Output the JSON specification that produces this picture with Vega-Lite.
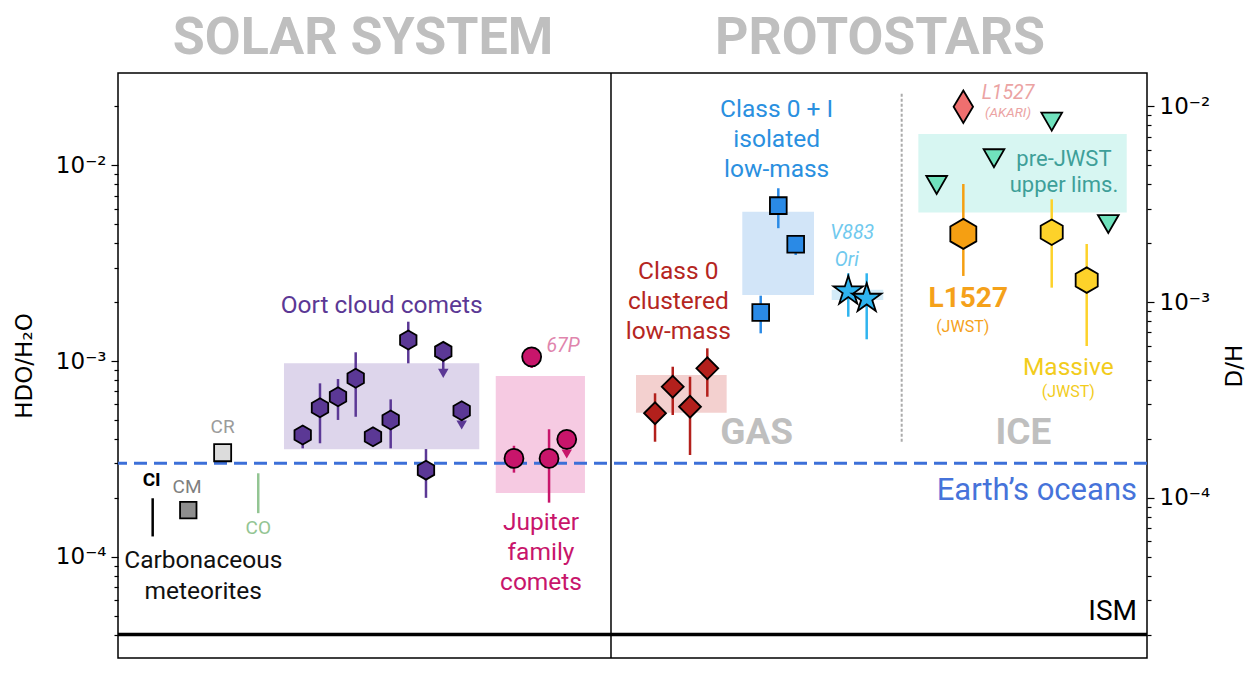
{
  "$schema": "https://vega.github.io/schema/vega-lite/v6.json",
  "width": 1029,
  "height": 585,
  "autosize": {"type": "none"},
  "padding": {"left": 118, "top": 73, "right": 103, "bottom": 19},
  "background": "white",
  "config": {"view": {"stroke": "#000", "strokeWidth": 1.5}, "font": "Roboto"},
  "datasets": {
    "boxes": [
      {"grp": "Oortbox", "x": 16.13, "x2": 35.11, "lo": 3.54e-4, "hi": 9.73e-4},
      {"grp": "JFCbox", "x": 36.71, "x2": 45.38, "lo": 2.12e-4, "hi": 8.38e-4},
      {"grp": "C0box", "x": 50.34, "x2": 59.15, "lo": 5.44e-4, "hi": 8.48e-4},
      {"grp": "C0Ibox", "x": 60.67, "x2": 67.64, "lo": 2.175e-3, "hi": 5.79e-3},
      {"grp": "V883box", "x": 69.36, "x2": 74.37, "lo": 2.05e-3, "hi": 2.31e-3},
      {"grp": "preJWSTbox", "x": 77.78, "x2": 98.03, "lo": 5.73e-3, "hi": 1.445e-2}
    ],
    "vlines": [
      {"kind": "divider", "x": 47.91},
      {"kind": "ice", "x": 76.16, "lo": 3.87e-4, "hi": 0.02377}
    ],
    "refs": [{"name": "Earth's oceans", "v": 3.0e-4}],
    "ism": [{"name": "ISM", "dh": 2.005e-5}],
    "errs": [
      {"grp": "CI", "x": 3.37, "lo": 1.27e-4, "hi": 1.99e-4},
      {"grp": "CO", "x": 13.63, "lo": 1.67e-4, "hi": 2.67e-4},
      {"grp": "Oort", "x": 17.95, "lo": 3.58e-4, "hi": 4.67e-4},
      {"grp": "Oort", "x": 19.63, "lo": 3.80e-4, "hi": 7.69e-4},
      {"grp": "Oort", "x": 21.38, "lo": 5.00e-4, "hi": 8.09e-4},
      {"grp": "Oort", "x": 23.10, "lo": 5.19e-4, "hi": 1.108e-3},
      {"grp": "Oort", "x": 26.50, "lo": 3.58e-4, "hi": 6.37e-4},
      {"grp": "Oort", "x": 28.21, "lo": 9.73e-4, "hi": 1.588e-3},
      {"grp": "Oort", "x": 29.93, "lo": 2.00e-4, "hi": 3.55e-4},
      {"grp": "Oort", "x": 31.61, "lo": 8.65e-4, "hi": 1.116e-3},
      {"grp": "Oort", "x": 33.40, "lo": 4.71e-4, "hi": 5.57e-4},
      {"grp": "JFC", "x": 38.48, "lo": 2.69e-4, "hi": 3.69e-4},
      {"grp": "JFC", "x": 40.20, "lo": 9.21e-4, "hi": 1.165e-3},
      {"grp": "JFC", "x": 41.89, "lo": 1.89e-4, "hi": 4.48e-4},
      {"grp": "JFC", "x": 43.61, "lo": 3.35e-4, "hi": 3.98e-4},
      {"grp": "C0", "x": 52.19, "lo": 3.87e-4, "hi": 6.84e-4},
      {"grp": "C0", "x": 53.91, "lo": 5.30e-4, "hi": 9.35e-4},
      {"grp": "C0", "x": 55.59, "lo": 3.31e-4, "hi": 8.31e-4},
      {"grp": "C0", "x": 57.27, "lo": 6.57e-4, "hi": 1.161e-3},
      {"grp": "C0I", "x": 64.17, "lo": 4.77e-3, "hi": 7.63e-3},
      {"grp": "C0I", "x": 65.86, "lo": 3.48e-3, "hi": 4.40e-3},
      {"grp": "C0I", "x": 62.46, "lo": 1.385e-3, "hi": 2.157e-3},
      {"grp": "V883", "x": 70.97, "lo": 1.684e-3, "hi": 2.806e-3},
      {"grp": "V883", "x": 72.76, "lo": 1.291e-3, "hi": 2.806e-3},
      {"grp": "L1527", "x": 82.15, "lo": 2.72e-3, "hi": 8.02e-3},
      {"grp": "Massive", "x": 90.74, "lo": 2.37e-3, "hi": 6.70e-3},
      {"grp": "Massive", "x": 94.14, "lo": 1.193e-3, "hi": 3.96e-3}
    ],
    "points": [
      {"grp": "CM", "x": 6.83, "v": 1.73e-4},
      {"grp": "CR", "x": 10.17, "v": 3.40e-4},
      {"grp": "Oort", "x": 17.95, "v": 4.19e-4},
      {"grp": "Oort", "x": 19.63, "v": 5.77e-4},
      {"grp": "Oort", "x": 21.38, "v": 6.57e-4},
      {"grp": "Oort", "x": 23.10, "v": 8.16e-4},
      {"grp": "Oort", "x": 24.78, "v": 4.10e-4},
      {"grp": "Oort", "x": 26.50, "v": 5.00e-4},
      {"grp": "Oort", "x": 28.21, "v": 1.28e-3},
      {"grp": "Oort", "x": 29.93, "v": 2.77e-4},
      {"grp": "Oort", "x": 31.61, "v": 1.12e-3},
      {"grp": "Oort", "x": 33.40, "v": 5.57e-4},
      {"grp": "JFC", "x": 38.48, "v": 3.18e-4},
      {"grp": "JFC", "x": 40.20, "v": 1.05e-3},
      {"grp": "JFC", "x": 41.89, "v": 3.18e-4},
      {"grp": "JFC", "x": 43.61, "v": 3.98e-4},
      {"grp": "C0", "x": 52.19, "v": 5.41e-4},
      {"grp": "C0", "x": 53.91, "v": 7.39e-4},
      {"grp": "C0", "x": 55.59, "v": 5.84e-4},
      {"grp": "C0", "x": 57.27, "v": 9.18e-4},
      {"grp": "C0I", "x": 64.17, "v": 6.22e-3},
      {"grp": "C0I", "x": 65.86, "v": 3.95e-3},
      {"grp": "C0I", "x": 62.46, "v": 1.77e-3},
      {"grp": "V883", "x": 70.97, "v": 2.31e-3},
      {"grp": "V883", "x": 72.76, "v": 2.12e-3},
      {"grp": "AKARI", "x": 82.15, "v": 1.99e-2},
      {"grp": "preJWST", "x": 79.56, "v": 7.93e-3},
      {"grp": "preJWST", "x": 85.13, "v": 1.086e-2},
      {"grp": "preJWST", "x": 90.74, "v": 1.67e-2},
      {"grp": "preJWST", "x": 96.24, "v": 5.01e-3},
      {"grp": "L1527", "x": 82.15, "v": 4.46e-3},
      {"grp": "Massive", "x": 90.74, "v": 4.55e-3},
      {"grp": "Massive", "x": 94.14, "v": 2.59e-3}
    ],
    "limits": [
      {"grp": "Oort", "x": 31.61, "v": 8.65e-4},
      {"grp": "Oort", "x": 33.40, "v": 4.71e-4},
      {"grp": "JFC", "x": 43.61, "v": 3.35e-4}
    ],
    "labels": [
      {"role": "section", "grp": "gray", "x": 23.81, "v": 0.0447, "text": "SOLAR SYSTEM"},
      {"role": "section", "grp": "gray", "x": 74.05, "v": 0.0447, "text": "PROTOSTARS"},
      {"role": "phase", "grp": "gray", "x": 62.06, "v": 4.27e-4, "text": "GAS"},
      {"role": "phase", "grp": "gray", "x": 87.98, "v": 4.27e-4, "text": "ICE"},
      {"role": "group", "grp": "carb", "x": 8.29, "v": 9.54e-5, "text": "Carbonaceous"},
      {"role": "group", "grp": "carb", "x": 8.29, "v": 6.63e-5, "text": "meteorites"},
      {"role": "group", "grp": "oortl", "x": 25.62, "v": 1.91e-3, "text": "Oort cloud comets"},
      {"role": "group", "grp": "jfcl", "x": 41.11, "v": 1.487e-4, "text": "Jupiter"},
      {"role": "group", "grp": "jfcl", "x": 41.11, "v": 1.044e-4, "text": "family"},
      {"role": "group", "grp": "jfcl", "x": 41.11, "v": 7.34e-5, "text": "comets"},
      {"role": "group", "grp": "c0l", "x": 54.45, "v": 2.859e-3, "text": "Class 0"},
      {"role": "group", "grp": "c0l", "x": 54.45, "v": 2.009e-3, "text": "clustered"},
      {"role": "group", "grp": "c0l", "x": 54.45, "v": 1.411e-3, "text": "low-mass"},
      {"role": "group", "grp": "c0il", "x": 64.01, "v": 0.01917, "text": "Class 0 + I"},
      {"role": "group", "grp": "c0il", "x": 64.01, "v": 0.01346, "text": "isolated"},
      {"role": "group", "grp": "c0il", "x": 64.01, "v": 9.46e-3, "text": "low-mass"},
      {"role": "group2", "grp": "prel", "x": 91.93, "v": 0.01077, "text": "pre-JWST"},
      {"role": "group2", "grp": "prel", "x": 91.93, "v": 7.93e-3, "text": "upper lims."},
      {"role": "group", "grp": "massl", "x": 92.35, "v": 9.18e-4, "text": "Massive"},
      {"role": "tag", "grp": "crl", "x": 10.17, "v": 4.62e-4, "text": "CR"},
      {"role": "tag", "grp": "cml", "x": 6.71, "v": 2.28e-4, "text": "CM"},
      {"role": "tag", "grp": "col", "x": 13.63, "v": 1.40e-4, "text": "CO"},
      {"role": "tagbold", "grp": "cil", "x": 3.27, "v": 2.47e-4, "text": "CI"},
      {"role": "ital", "grp": "p67", "x": 43.25, "v": 1.193e-3, "text": "67P"},
      {"role": "ital", "grp": "v883l", "x": 71.36, "v": 4.49e-3, "text": "V883"},
      {"role": "ital", "grp": "v883l", "x": 70.82, "v": 3.28e-3, "text": "Ori"},
      {"role": "ital", "grp": "akaril", "x": 86.49, "v": 0.02333, "text": "L1527"},
      {"role": "italsmall", "grp": "akaril", "x": 86.49, "v": 0.01844, "text": "(AKARI)"},
      {"role": "big", "grp": "l1527l", "x": 82.63, "v": 2.067e-3, "text": "L1527"},
      {"role": "small", "grp": "l1527l", "x": 82.09, "v": 1.497e-3, "text": "(JWST)"},
      {"role": "small", "grp": "massl", "x": 92.35, "v": 6.97e-4, "text": "(JWST)"},
      {"role": "ref", "grp": "earth", "x": 99.03, "v": 2.166e-4, "text": "Earth’s oceans"},
      {"role": "refism", "grp": "ism", "x": 99.03, "v": 5.22e-5, "text": "ISM"}
    ]
  },
  "resolve": {"scale": {"y": "independent"}, "axis": {"y": "independent"}},
  "layer": [
    {
      "data": {"name": "boxes"},
      "mark": {"type": "rect", "opacity": 1},
      "encoding": {
        "x": {"field": "x", "type": "quantitative", "scale": {"domain": [0, 100], "nice": false, "zero": false}, "axis": null},
        "x2": {"field": "x2"},
        "y": {"field": "lo", "type": "quantitative", "scale": {"type": "log", "domain": [3.04e-5, 0.0296], "nice": false},
          "axis": {"orient": "left", "title": "HDO/H₂O",
            "values": [4e-5, 5e-5, 6e-5, 7e-5, 8e-5, 9e-5, 1e-4, 2e-4, 3e-4, 4e-4, 5e-4, 6e-4, 7e-4, 8e-4, 9e-4, 1e-3, 2e-3, 3e-3, 4e-3, 5e-3, 6e-3, 7e-3, 8e-3, 9e-3, 1e-2, 2e-2],
            "labelExpr": "datum.value == 0.01 ? '10⁻²' : datum.value == 0.001 ? '10⁻³' : datum.value == 0.0001 ? '10⁻⁴' : ''",
            "tickSize": {"condition": {"test": "datum.value == 0.01 || datum.value == 0.001 || datum.value == 0.0001", "value": 7}, "value": 4},
            "tickColor": "#000", "tickWidth": 1.2, "domain": false, "grid": false,
            "labelFont": "DejaVu Sans", "labelFontSize": 23, "labelColor": "#000", "labelPadding": 5,
            "labelOverlap": false, "labelBound": false, "labelFlush": false,
            "titleFont": "DejaVu Sans", "titleFontSize": 23, "titleFontWeight": "normal", "titleColor": "#000", "titlePadding": 19}},
        "y2": {"field": "hi"},
        "color": {"field": "grp", "type": "nominal", "legend": null,
          "scale": {"domain": ["CI","CM","CR","CO","Oort","JFC","C0","C0I","V883","AKARI","preJWST","L1527","Massive","Oortbox","JFCbox","C0box","C0Ibox","V883box","preJWSTbox","carb","oortl","jfcl","p67","c0l","c0il","v883l","akaril","prel","l1527l","massl","earth","ism","gray","crl","cml","col","cil"],
            "range": ["#000000","#8e8e8e","#dcdcdc","#93c593","#5b3895","#c8156b","#b3201c","#2a8ae6","#2fb4ef","#ef6f6f","#70e2bd","#f59f12","#fdd22a","#ddd5eb","#f6cae2","#f3d0cf","#d2e5f8","#d3ebf8","#d7f6f2","#111111","#5b3895","#c8156b","#e085ad","#b5261f","#2a90e0","#70c9ee","#eba3a3","#3e9f99","#f5a11a","#f2cc1c","#4673da","#000000","#bfbfbf","#9b9b9b","#7f7f7f","#93c593","#000000"]}}
      }
    },
    {
      "layer": [
        {
          "data": {"name": "vlines"},
          "transform": [{"filter": "datum.kind == 'divider'"}],
          "mark": {"type": "rule", "stroke": "#000", "strokeWidth": 1.5},
          "encoding": {
            "x": {"field": "x", "type": "quantitative", "scale": {"domain": [0, 100], "nice": false, "zero": false}, "axis": null}
          }
        },
        {
          "data": {"name": "vlines"},
          "transform": [{"filter": "datum.kind == 'ice'"}],
          "mark": {"type": "rule", "stroke": "#ababab", "strokeWidth": 2, "strokeDash": [3, 2]},
          "encoding": {
            "x": {"field": "x", "type": "quantitative", "scale": {"domain": [0, 100], "nice": false, "zero": false}, "axis": null},
            "y": {"field": "lo", "type": "quantitative", "scale": {"type": "log", "domain": [3.04e-5, 0.0296], "nice": false}, "axis": null},
            "y2": {"field": "hi"}
          }
        },
        {
          "data": {"name": "refs"},
          "mark": {"type": "rule", "stroke": "#3c6fd8", "strokeWidth": 3, "strokeDash": [13, 7]},
          "encoding": {
            "y": {"field": "v", "type": "quantitative", "scale": {"type": "log", "domain": [3.04e-5, 0.0296], "nice": false}, "axis": null}
          }
        },
        {
          "data": {"name": "errs"},
          "mark": {"type": "rule", "strokeWidth": 2.5},
          "encoding": {
            "x": {"field": "x", "type": "quantitative", "scale": {"domain": [0, 100], "nice": false, "zero": false}, "axis": null},
            "y": {"field": "lo", "type": "quantitative", "scale": {"type": "log", "domain": [3.04e-5, 0.0296], "nice": false}, "axis": null},
            "y2": {"field": "hi"},
            "color": {"field": "grp", "type": "nominal", "legend": null,
              "scale": {"domain": ["CI","CM","CR","CO","Oort","JFC","C0","C0I","V883","AKARI","preJWST","L1527","Massive","Oortbox","JFCbox","C0box","C0Ibox","V883box","preJWSTbox","carb","oortl","jfcl","p67","c0l","c0il","v883l","akaril","prel","l1527l","massl","earth","ism","gray","crl","cml","col","cil"],
                "range": ["#000000","#8e8e8e","#dcdcdc","#93c593","#5b3895","#c8156b","#b3201c","#2a8ae6","#2fb4ef","#ef6f6f","#70e2bd","#f59f12","#fdd22a","#ddd5eb","#f6cae2","#f3d0cf","#d2e5f8","#d3ebf8","#d7f6f2","#111111","#5b3895","#c8156b","#e085ad","#b5261f","#2a90e0","#70c9ee","#eba3a3","#3e9f99","#f5a11a","#f2cc1c","#4673da","#000000","#bfbfbf","#9b9b9b","#7f7f7f","#93c593","#000000"]}}
          }
        },
        {
          "data": {"name": "limits"},
          "mark": {"type": "point", "filled": true, "shape": "triangle-down", "size": 110, "strokeWidth": 0, "opacity": 1},
          "encoding": {
            "x": {"field": "x", "type": "quantitative", "scale": {"domain": [0, 100], "nice": false, "zero": false}, "axis": null},
            "y": {"field": "v", "type": "quantitative", "scale": {"type": "log", "domain": [3.04e-5, 0.0296], "nice": false}, "axis": null},
            "color": {"field": "grp", "type": "nominal", "legend": null,
              "scale": {"domain": ["CI","CM","CR","CO","Oort","JFC","C0","C0I","V883","AKARI","preJWST","L1527","Massive","Oortbox","JFCbox","C0box","C0Ibox","V883box","preJWSTbox","carb","oortl","jfcl","p67","c0l","c0il","v883l","akaril","prel","l1527l","massl","earth","ism","gray","crl","cml","col","cil"],
                "range": ["#000000","#8e8e8e","#dcdcdc","#93c593","#5b3895","#c8156b","#b3201c","#2a8ae6","#2fb4ef","#ef6f6f","#70e2bd","#f59f12","#fdd22a","#ddd5eb","#f6cae2","#f3d0cf","#d2e5f8","#d3ebf8","#d7f6f2","#111111","#5b3895","#c8156b","#e085ad","#b5261f","#2a90e0","#70c9ee","#eba3a3","#3e9f99","#f5a11a","#f2cc1c","#4673da","#000000","#bfbfbf","#9b9b9b","#7f7f7f","#93c593","#000000"]}}
          }
        },
        {
          "data": {"name": "points"},
          "mark": {"type": "point", "filled": true, "stroke": "#000", "strokeWidth": 1.8, "opacity": 1},
          "encoding": {
            "x": {"field": "x", "type": "quantitative", "scale": {"domain": [0, 100], "nice": false, "zero": false}, "axis": null},
            "y": {"field": "v", "type": "quantitative", "scale": {"type": "log", "domain": [3.04e-5, 0.0296], "nice": false}, "axis": null},
            "color": {"field": "grp", "type": "nominal", "legend": null,
              "scale": {"domain": ["CI","CM","CR","CO","Oort","JFC","C0","C0I","V883","AKARI","preJWST","L1527","Massive","Oortbox","JFCbox","C0box","C0Ibox","V883box","preJWSTbox","carb","oortl","jfcl","p67","c0l","c0il","v883l","akaril","prel","l1527l","massl","earth","ism","gray","crl","cml","col","cil"],
                "range": ["#000000","#8e8e8e","#dcdcdc","#93c593","#5b3895","#c8156b","#b3201c","#2a8ae6","#2fb4ef","#ef6f6f","#70e2bd","#f59f12","#fdd22a","#ddd5eb","#f6cae2","#f3d0cf","#d2e5f8","#d3ebf8","#d7f6f2","#111111","#5b3895","#c8156b","#e085ad","#b5261f","#2a90e0","#70c9ee","#eba3a3","#3e9f99","#f5a11a","#f2cc1c","#4673da","#000000","#bfbfbf","#9b9b9b","#7f7f7f","#93c593","#000000"]}},
            "shape": {"field": "grp", "type": "nominal", "legend": null,
              "scale": {"domain": ["CM","CR","Oort","JFC","C0","C0I","V883","AKARI","preJWST","L1527","Massive"],
                "range": ["square","square","M0,-1L0.866,-0.5L0.866,0.5L0,1L-0.866,0.5L-0.866,-0.5Z","circle","diamond","square","M0,-0.91L0.2245,-0.219L0.9511,-0.219L0.3633,0.208L0.5878,0.899L0,0.472L-0.5878,0.899L-0.3633,0.208L-0.9511,-0.219L-0.2245,-0.219Z","M0,-1L0.6,0L0,1L-0.6,0Z","triangle-down","M0,-1L0.866,-0.5L0.866,0.5L0,1L-0.866,0.5L-0.866,-0.5Z","M0,-1L0.866,-0.5L0.866,0.5L0,1L-0.866,0.5L-0.866,-0.5Z"]}},
            "size": {"field": "grp", "type": "nominal", "legend": null,
              "scale": {"type": "ordinal", "domain": ["CM","CR","Oort","JFC","C0","C0I","V883","AKARI","preJWST","L1527","Massive"],
                "range": [270, 290, 360, 360, 480, 280, 950, 1050, 430, 900, 650]}}
          }
        },
        {
          "data": {"name": "labels"},
          "encoding": {
            "x": {"field": "x", "type": "quantitative", "scale": {"domain": [0, 100], "nice": false, "zero": false}, "axis": null},
            "y": {"field": "v", "type": "quantitative", "scale": {"type": "log", "domain": [3.04e-5, 0.0296], "nice": false}, "axis": null},
            "text": {"field": "text", "type": "nominal"},
            "color": {"field": "grp", "type": "nominal", "legend": null,
              "scale": {"domain": ["CI","CM","CR","CO","Oort","JFC","C0","C0I","V883","AKARI","preJWST","L1527","Massive","Oortbox","JFCbox","C0box","C0Ibox","V883box","preJWSTbox","carb","oortl","jfcl","p67","c0l","c0il","v883l","akaril","prel","l1527l","massl","earth","ism","gray","crl","cml","col","cil"],
                "range": ["#000000","#8e8e8e","#dcdcdc","#93c593","#5b3895","#c8156b","#b3201c","#2a8ae6","#2fb4ef","#ef6f6f","#70e2bd","#f59f12","#fdd22a","#ddd5eb","#f6cae2","#f3d0cf","#d2e5f8","#d3ebf8","#d7f6f2","#111111","#5b3895","#c8156b","#e085ad","#b5261f","#2a90e0","#70c9ee","#eba3a3","#3e9f99","#f5a11a","#f2cc1c","#4673da","#000000","#bfbfbf","#9b9b9b","#7f7f7f","#93c593","#000000"]}}
          },
          "layer": [
            {"transform": [{"filter": "datum.role == 'section'"}], "mark": {"type": "text", "font": "Roboto", "fontSize": 52, "fontWeight": "bold", "baseline": "middle", "align": "center"}},
            {"transform": [{"filter": "datum.role == 'phase'"}], "mark": {"type": "text", "font": "Roboto", "fontSize": 37, "fontWeight": "bold", "baseline": "middle", "align": "center"}},
            {"transform": [{"filter": "datum.role == 'group'"}], "mark": {"type": "text", "font": "Roboto", "fontSize": 24.5, "baseline": "middle", "align": "center"}},
            {"transform": [{"filter": "datum.role == 'group2'"}], "mark": {"type": "text", "font": "Roboto", "fontSize": 22, "baseline": "middle", "align": "center"}},
            {"transform": [{"filter": "datum.role == 'tag'"}], "mark": {"type": "text", "font": "Roboto", "fontSize": 19, "baseline": "middle", "align": "center"}},
            {"transform": [{"filter": "datum.role == 'tagbold'"}], "mark": {"type": "text", "font": "Roboto", "fontSize": 19, "fontWeight": "bold", "baseline": "middle", "align": "center"}},
            {"transform": [{"filter": "datum.role == 'ital'"}], "mark": {"type": "text", "font": "Roboto", "fontSize": 19.5, "fontStyle": "italic", "baseline": "middle", "align": "center"}},
            {"transform": [{"filter": "datum.role == 'italsmall'"}], "mark": {"type": "text", "font": "Roboto", "fontSize": 13.5, "fontStyle": "italic", "baseline": "middle", "align": "center"}},
            {"transform": [{"filter": "datum.role == 'big'"}], "mark": {"type": "text", "font": "Roboto", "fontSize": 28, "fontWeight": "bold", "baseline": "middle", "align": "center"}},
            {"transform": [{"filter": "datum.role == 'small'"}], "mark": {"type": "text", "font": "Roboto", "fontSize": 16, "baseline": "middle", "align": "center"}},
            {"transform": [{"filter": "datum.role == 'ref'"}], "mark": {"type": "text", "font": "Roboto", "fontSize": 31, "baseline": "middle", "align": "right"}},
            {"transform": [{"filter": "datum.role == 'refism'"}], "mark": {"type": "text", "font": "Roboto", "fontSize": 28, "baseline": "middle", "align": "right"}}
          ]
        }
      ]
    },
    {
      "data": {"name": "ism"},
      "mark": {"type": "rule", "stroke": "#000", "strokeWidth": 3.5},
      "encoding": {
        "y": {"field": "dh", "type": "quantitative", "scale": {"type": "log", "domain": [1.52e-5, 0.0148], "nice": false},
          "axis": {"orient": "right", "title": "D/H",
            "values": [2e-5, 3e-5, 4e-5, 5e-5, 6e-5, 7e-5, 8e-5, 9e-5, 1e-4, 2e-4, 3e-4, 4e-4, 5e-4, 6e-4, 7e-4, 8e-4, 9e-4, 1e-3, 2e-3, 3e-3, 4e-3, 5e-3, 6e-3, 7e-3, 8e-3, 9e-3, 1e-2],
            "labelExpr": "datum.value == 0.01 ? '10⁻²' : datum.value == 0.001 ? '10⁻³' : datum.value == 0.0001 ? '10⁻⁴' : ''",
            "tickSize": {"condition": {"test": "datum.value == 0.01 || datum.value == 0.001 || datum.value == 0.0001", "value": 7}, "value": 4},
            "tickColor": "#000", "tickWidth": 1.2, "domain": false, "grid": false,
            "labelFont": "DejaVu Sans", "labelFontSize": 23, "labelColor": "#000", "labelPadding": 5,
            "labelOverlap": false, "labelBound": false, "labelFlush": false,
            "titleFont": "DejaVu Sans", "titleFontSize": 23, "titleFontWeight": "normal", "titleColor": "#000",
            "titleAngle": 270, "titleBaseline": "top", "titlePadding": 14}}
      }
    }
  ]
}
